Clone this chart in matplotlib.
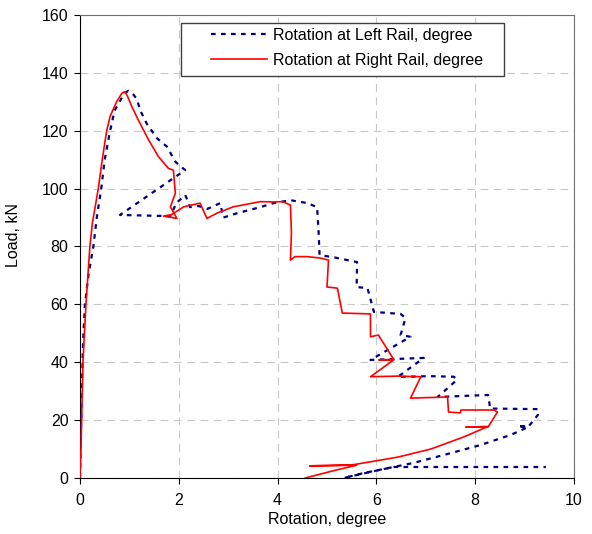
import matplotlib
matplotlib.use("Agg")
import matplotlib.pyplot as plt
from matplotlib.patches import Rectangle

plt.rcParams["font.family"] = ["Liberation Sans", "DejaVu Sans"]

# Rotation at Left Rail (degree) vs load (kN)
left_rot = [0, 0.01, 0.03, 0.05, 0.07, 0.1, 0.17, 0.27, 0.34, 0.43, 0.5, 0.61, 0.7, 0.8,
            0.9, 0.98, 1.08, 1.15, 1.22, 1.35, 1.45, 1.56, 1.76, 1.93, 2.05, 2.13,
            0.81, 1.83, 1.95, 2.13, 2.23, 2.4, 2.58, 2.84, 2.9, 3.18, 3.65, 3.92, 4.26,
            4.6, 4.8, 4.83, 4.85, 5.13, 5.61, 5.6, 5.82, 5.95, 6.49, 6.59, 6.49, 6.69,
            5.88, 6.96, 6.43, 7.06, 7.57, 7.63, 7.24, 8.26, 8.28, 8.3, 9.27, 9.27, 9.07,
            8.86, 9.07, 8.72, 8.11, 7.44, 6.75, 5.74, 5.34, 5.9, 6.35, 9.43]
left_load = [0, 10, 25, 40, 50, 60, 70, 80, 90, 100, 110, 120, 127, 130,
             133, 133.8, 132.5, 131, 127, 122.5, 120, 117.4, 114.5, 109.3, 107.5, 106.4,
             90.9, 90.5, 95, 97.8, 93.6, 94, 93, 95, 90, 91.5, 93.6, 95, 96,
             95, 93.6, 85, 77, 76.3, 74.6, 66, 65.6, 57.4, 56.7, 55.3, 49.4, 48.8,
             40.8, 41.5, 34.9, 35.2, 35, 33.9, 28, 28.7, 27, 24, 23.8, 21.8, 17.6,
             18, 17.6, 14.9, 11.4, 8.3, 5.2, 1.7, 0, 2.2, 3.8, 3.8]

# Rotation at Right Rail (degree) vs load (kN)
right_rot = [0, 0.02, 0.04, 0.06, 0.09, 0.12, 0.16, 0.2, 0.25, 0.37, 0.45, 0.54, 0.61, 0.74,
             0.85, 0.91, 0.96, 1.05, 1.18, 1.39, 1.59, 1.79, 1.89, 1.93, 1.83, 1.96, 1.69,
             1.85, 2.1, 2.43, 2.57, 2.77, 3.1, 3.65, 3.92, 4.1, 4.26, 4.28, 4.26, 4.35,
             4.6, 4.87, 5.03, 5.0, 5.21, 5.31, 5.88, 5.88, 6.04, 6.35, 6.05, 6.35, 5.88,
             6.43, 6.9, 6.69, 7.44, 7.46, 7.7, 7.71, 8.38, 8.45, 8.26, 7.81, 8.26, 7.77,
             7.1, 6.43, 5.74, 5.5, 4.65, 5.6, 5.2, 4.9, 4.56]
right_load = [0, 10, 25, 40, 50, 60, 70, 80, 88, 100, 110, 120, 125, 130,
              133, 133.5, 132, 128.3, 123.7, 116.8, 111, 107, 106.4, 98.4, 93.7, 89.7, 90.5,
              91, 93.7, 95, 89.7, 91.5, 93.7, 95.5, 95.4, 95.5, 94.3, 84.7, 75.3, 76.5,
              76.5, 76, 75.3, 66, 65.6, 57, 56.7, 48.8, 49.4, 41, 40.8, 40.8, 35,
              35.2, 35, 27.6, 28, 22.8, 22.5, 23.5, 23.5, 22.8, 17.6, 17.6, 17.8, 14.2,
              10, 7.2, 5.2, 4.5, 4.2, 4.4, 2.8, 1.5, 0]

fig = plt.figure(figsize=(5.92, 5.34), dpi=100)
ax = fig.add_axes([80 / 592, 56 / 534, 494 / 592, 463 / 534])

ax.plot(left_rot, left_load, color="#000080", lw=1.6, linestyle=(0, (2.1, 2.4)),
        label="Rotation at Left Rail, degree", zorder=3)
ax.plot(right_rot, right_load, color="#ff0000", lw=1.2,
        label="Rotation at Right Rail, degree", zorder=4)

ax.set_xlim(0, 10)
ax.set_ylim(0, 160)
ax.set_xticks(range(0, 11, 2))
ax.set_yticks(range(0, 161, 20))
ax.grid(True, color="#c8c8c8", lw=0.8, linestyle=(0, (7, 5)))
ax.set_axisbelow(True)

ax.tick_params(axis="both", direction="out", length=4.3, width=0.8, labelsize=11.5)
ax.tick_params(axis="y", pad=4)
ax.tick_params(axis="x", pad=6.5)
for side in ("top", "right"):
    ax.spines[side].set_color("#707070")
for side in ("left", "bottom"):
    ax.spines[side].set_color("black")

ax.set_xlabel("Rotation, degree", fontsize=11.5)
ax.set_ylabel("Load, kN", fontsize=11.5)
ax.xaxis.set_label_coords(0.5, -0.073)
ax.yaxis.set_label_coords(-0.119, 0.525)

# legend frame is wider than the entries, so draw it separately
ax.add_patch(Rectangle((0.2045, 0.868), 0.6535, 0.1147, transform=ax.transAxes,
                       facecolor="white", edgecolor="#404040", lw=1.0, zorder=5))
ax.legend(loc="upper left", bbox_to_anchor=(0.265, 0.972), frameon=False,
          borderpad=0, borderaxespad=0, handlelength=3.5, handletextpad=0.36,
          labelspacing=0.6, fontsize=11.5).set_zorder(6)

fig.savefig("out.png", dpi=100)
